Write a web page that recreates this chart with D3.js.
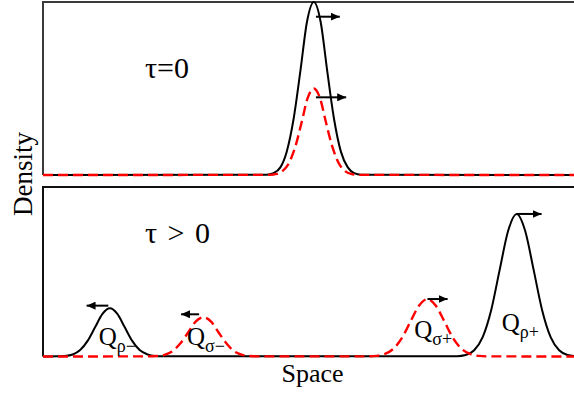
<!DOCTYPE html>
<html>
<head>
<meta charset="utf-8">
<script src="https://cdn.jsdelivr.net/npm/d3@7"></script>
<style>
  html, body { margin: 0; padding: 0; background: #fff; }
  svg { display: block; }
  text { font-family: "Liberation Serif", "DejaVu Serif", serif; fill: #000; }
</style>
</head>
<body>
<svg id="chart" width="574" height="393"></svg>
<script>
// Density profiles sampled along space (0–100), normalised density.
// Upper panel: initial pulse (τ = 0)
const topRhoX   = [0, 42.1, 43.4, 44.7, 45.9, 47.2, 48.5, 49.7, 51.0, 52.3, 53.5, 54.8, 56.1, 57.4, 58.6, 59.9, 100];
const topRhoY   = [0, 0.002, 0.011, 0.044, 0.135, 0.325, 0.607, 0.883, 1.0, 0.883, 0.607, 0.325, 0.135, 0.044, 0.011, 0.002, 0];
const topSigmaX = [0, 42.8, 44.0, 45.1, 46.3, 47.5, 48.7, 49.8, 51.0, 52.2, 53.3, 54.5, 55.7, 56.9, 58.0, 59.2, 100];
const topSigmaY = [0, 0.001, 0.006, 0.022, 0.068, 0.162, 0.303, 0.441, 0.5, 0.441, 0.303, 0.162, 0.068, 0.022, 0.006, 0.001, 0];

// Lower panel: split pulses (τ > 0)
const botRhoX = [0,
  2.7, 4.1, 5.6, 7.0, 8.4, 9.8, 11.2, 12.6, 14.0, 15.4, 16.8, 18.2, 19.7, 21.1, 22.5,
  78.0, 79.6, 81.2, 82.8, 84.4, 86.0, 87.6, 89.2, 90.8, 92.4, 94.0, 95.6, 97.2, 98.8, 100];
const botRhoY = [0,
  0.001, 0.003, 0.012, 0.038, 0.092, 0.172, 0.251, 0.284, 0.251, 0.172, 0.092, 0.038, 0.012, 0.003, 0.001,
  0.002, 0.009, 0.037, 0.114, 0.273, 0.511, 0.742, 0.841, 0.742, 0.511, 0.273, 0.114, 0.037, 0.009, 0.003];
const botSigmaX = [0,
  20.0, 21.4, 22.9, 24.4, 25.8, 27.3, 28.7, 30.2, 31.7, 33.1, 34.6, 36.0, 37.5, 39.0, 40.4,
  61.2, 62.8, 64.4, 66.0, 67.6, 69.2, 70.8, 72.4, 74.0, 75.6, 77.2, 78.8, 80.4, 82.0, 83.6, 100];
const botSigmaY = [0,
  0.001, 0.003, 0.010, 0.031, 0.075, 0.140, 0.204, 0.231, 0.204, 0.140, 0.075, 0.031, 0.010, 0.003, 0.001,
  0.001, 0.004, 0.015, 0.046, 0.110, 0.206, 0.299, 0.339, 0.299, 0.206, 0.110, 0.046, 0.015, 0.004, 0.001, 0];

// Propagation arrows: start and end in space, level in density
const arrowPanel = ["top", "top", "bot", "bot", "bot", "bot"];
const arrowFrom  = [51.4, 51.4, 12.3, 29.4, 72.4, 89.2];
const arrowTo    = [55.9, 57.1, 8.2, 26.0, 76.2, 93.9];
const arrowLevel = [0.915, 0.449, 0.300, 0.249, 0.339, 0.841];

// Pulse labels in the lower panel
const labelSub   = ["ρ−", "σ−", "σ+", "ρ+"];
const labelX     = [10.5, 27.1, 69.9, 86.4];
const labelLevel = [0.068, 0.068, 0.109, 0.150];

const panelTitles = ["τ=0", "τ > 0"];

const svg = d3.select("#chart");

const x = d3.scaleLinear().domain([0, 100]).range([43, 574]);
const yTop = d3.scaleLinear().domain([0, 1]).range([175, 2]);
const yBot = d3.scaleLinear().domain([0, 1]).range([356.5, 187]);
const yOf = p => (p === "top" ? yTop : yBot);

// Panel frames (top and left edges; the right edge runs off the canvas)
function frame(y, color) {
  const [y0, y1] = y.range();
  svg.append("path")
    .attr("d", `M${x.range()[1] + 2},${y1} L${x.range()[0]},${y1} L${x.range()[0]},${y0}`)
    .attr("fill", "none")
    .attr("stroke", color)
    .attr("stroke-width", 2);
}
frame(yTop, "#3a3a3a");
frame(yBot, "#111");

function series(xs, ys, y, dashed) {
  const line = d3.line()
    .x(d => x(d[0]))
    .y(d => y(d[1]))
    .curve(d3.curveMonotoneX);
  const p = svg.append("path")
    .attr("d", line(xs.map((v, i) => [v, ys[i]])))
    .attr("fill", "none")
    .attr("stroke-linejoin", "round");
  if (dashed) {
    p.attr("stroke", "#ff0000").attr("stroke-width", 2.4).attr("stroke-dasharray", "10,5");
  } else {
    p.attr("stroke", "#000").attr("stroke-width", 2);
  }
}

series(topRhoX, topRhoY, yTop, false);
series(topSigmaX, topSigmaY, yTop, true);
series(botRhoX, botRhoY, yBot, false);
series(botSigmaX, botSigmaY, yBot, true);

// Arrowheads
svg.append("defs").append("marker")
  .attr("id", "head")
  .attr("viewBox", "0 0 9 8")
  .attr("markerWidth", 9)
  .attr("markerHeight", 8)
  .attr("refX", 9)
  .attr("refY", 4)
  .attr("markerUnits", "userSpaceOnUse")
  .attr("orient", "auto")
  .append("path")
  .attr("d", "M0,0 L9,4 L0,8 Z")
  .attr("fill", "#000");

arrowFrom.forEach((f, i) => {
  const y = yOf(arrowPanel[i]);
  const x0 = x(f), x1 = x(arrowTo[i]);
  const dir = Math.sign(x1 - x0);
  svg.append("line")
    .attr("x1", x0).attr("y1", y(arrowLevel[i]))
    .attr("x2", x1 - dir * 0.01).attr("y2", y(arrowLevel[i]))
    .attr("stroke", "#000")
    .attr("stroke-width", 2)
    .attr("marker-end", "url(#head)");
});

// Pulse labels
labelSub.forEach((s, i) => {
  const t = svg.append("text")
    .attr("x", x(labelX[i]))
    .attr("y", yBot(labelLevel[i]))
    .attr("font-size", 25);
  t.append("tspan").text("Q");
  t.append("tspan").attr("dy", 7).attr("font-size", 18).text(s);
});

// Panel titles
svg.append("text").attr("x", 145).attr("y", 78).attr("font-size", 30).text(panelTitles[0]);
svg.append("text").attr("x", 145).attr("y", 243).attr("font-size", 30)
  .attr("word-spacing", 3).text(panelTitles[1]);

// Axis titles
svg.append("text")
  .attr("transform", "translate(32,174) rotate(-90)")
  .attr("text-anchor", "middle")
  .attr("font-size", 27)
  .text("Density");
svg.append("text")
  .attr("x", (x.range()[0] + x.range()[1]) / 2 + 4)
  .attr("y", 382)
  .attr("text-anchor", "middle")
  .attr("font-size", 26)
  .text("Space");
</script>
</body>
</html>
